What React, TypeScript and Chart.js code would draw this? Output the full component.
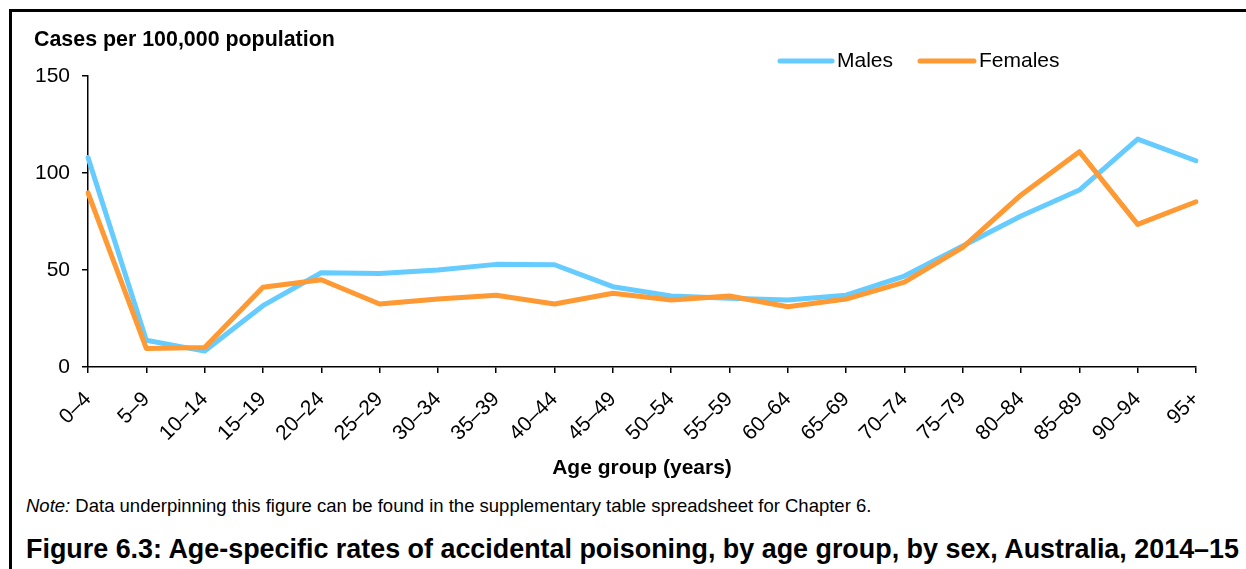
import React, { useEffect, useRef } from "react";
import { Chart, registerables } from "chart.js";

Chart.register(...registerables);

const ageGroups = [
  "0–4", "5–9", "10–14", "15–19", "20–24", "25–29", "30–34", "35–39", "40–44", "45–49",
  "50–54", "55–59", "60–64", "65–69", "70–74", "75–79", "80–84", "85–89", "90–94", "95+",
];
const males = [108, 13.8, 8.2, 31.6, 48.6, 48.2, 50, 52.9, 52.7, 41.4, 36.6, 35.4, 34.5, 37, 46.9, 62.4, 77.8, 91.2, 117.5, 106.3];
const females = [89.8, 9.6, 10.1, 41.1, 45, 32.5, 35, 37, 32.5, 38, 34.5, 36.6, 31.1, 35, 43.7, 61.7, 88.7, 111, 73.5, 85.2];
const yTicks = [0, 50, 100, 150];
const seriesNames = ["Males", "Females"];
const seriesColors = ["#66CCFF", "#FF9933"];

const FONT = "'Liberation Sans', Arial, sans-serif";

const legendPlugin = {
  id: "customLegend",
  afterDraw(chart: any) {
    const ctx = chart.ctx;
    const items = [
      { x0: 780, x1: 832, tx: 837 },
      { x0: 920, x1: 974, tx: 979 },
    ];
    const y = 61;
    ctx.save();
    chart.data.datasets.forEach((ds: any, i: number) => {
      const it = items[i];
      ctx.strokeStyle = ds.borderColor;
      ctx.lineWidth = 5;
      ctx.lineCap = "round";
      ctx.beginPath();
      ctx.moveTo(it.x0, y);
      ctx.lineTo(it.x1, y);
      ctx.stroke();
      ctx.fillStyle = "#000";
      ctx.font = `21px ${FONT}`;
      ctx.textBaseline = "middle";
      ctx.textAlign = "left";
      ctx.fillText(ds.label, it.tx, y);
    });
    ctx.restore();
  },
};

export default function App() {
  const ref = useRef<HTMLCanvasElement>(null);
  useEffect(() => {
    if (!ref.current) return;
    const chart = new Chart(ref.current, {
      type: "line",
      data: {
        labels: ageGroups,
        datasets: [
          {
            label: seriesNames[0],
            data: males,
            borderColor: seriesColors[0],
            backgroundColor: seriesColors[0],
            borderWidth: 5,
            pointRadius: 0,
            tension: 0,
            borderJoinStyle: "round",
            borderCapStyle: "round",
            order: 1,
          },
          {
            label: seriesNames[1],
            data: females,
            borderColor: seriesColors[1],
            backgroundColor: seriesColors[1],
            borderWidth: 5,
            pointRadius: 0,
            tension: 0,
            borderJoinStyle: "round",
            borderCapStyle: "round",
            order: 0,
          },
        ],
      },
      options: {
        responsive: false,
        animation: false,
        layout: { padding: { left: 0, right: 50, top: 76, bottom: 0 } },
        plugins: {
          legend: { display: false },
          tooltip: { enabled: false },
          title: { display: false },
        },
        scales: {
          x: {
            type: "category",
            offset: false,
            grid: {
              display: true,
              drawOnChartArea: false,
              drawTicks: true,
              tickLength: 6,
              color: "#000",
              lineWidth: 1.5,
            },
            border: { display: true, color: "#000", width: 1.5 },
            ticks: {
              autoSkip: false,
              maxRotation: 45,
              minRotation: 45,
              padding: 14,
              color: "#000",
              font: { family: FONT, size: 21 },
            },
            title: {
              display: true,
              text: "Age group (years)",
              color: "#000",
              font: { family: FONT, size: 21, weight: "bold" },
              padding: { top: 4, bottom: 4 },
            },
            afterFit: (s: any) => {
              s.height = 118;
            },
          },
          y: {
            min: 0,
            max: 150,
            afterBuildTicks: (s: any) => {
              s.ticks = yTicks.map((v) => ({ value: v }));
            },
            grid: {
              display: true,
              drawOnChartArea: false,
              drawTicks: true,
              tickLength: 6,
              color: "#000",
              lineWidth: 1.5,
            },
            border: { display: true, color: "#000", width: 1.5 },
            ticks: {
              padding: 12,
              color: "#000",
              font: { family: FONT, size: 21 },
            },
            afterFit: (s: any) => {
              s.width = 88;
            },
          },
        },
      },
      plugins: [legendPlugin],
    });
    return () => chart.destroy();
  }, []);

  return (
    <div
      style={{
        position: "absolute",
        left: 0,
        top: 0,
        width: 1246,
        height: 569,
        background: "#fff",
        overflow: "hidden",
        fontFamily: FONT,
        color: "#000",
      }}
    >
      <div
        style={{
          position: "absolute",
          left: 9,
          top: 9,
          width: 1300,
          height: 600,
          borderTop: "3px solid #000",
          borderLeft: "3px solid #000",
        }}
      />
      <canvas
        ref={ref}
        width={1246}
        height={485}
        style={{ position: "absolute", left: 0, top: 0, width: 1246, height: 485 }}
      />
      <div
        style={{
          position: "absolute",
          left: 34,
          top: 27,
          fontSize: 21.4,
          fontWeight: "bold",
          lineHeight: "24px",
          whiteSpace: "nowrap",
        }}
      >
        Cases per 100,000 population
      </div>
      <div
        style={{
          position: "absolute",
          left: 26,
          top: 495,
          fontSize: 18.5,
          lineHeight: "22px",
          whiteSpace: "nowrap",
        }}
      >
        <i>Note:</i> Data underpinning this figure can be found in the supplementary table spreadsheet for Chapter 6.
      </div>
      <div
        style={{
          position: "absolute",
          left: 26,
          top: 534,
          fontSize: 26.9,
          fontWeight: "bold",
          lineHeight: "30px",
          whiteSpace: "nowrap",
        }}
      >
        Figure 6.3: Age-specific rates of accidental poisoning, by age group, by sex, Australia, 2014–15
      </div>
    </div>
  );
}
